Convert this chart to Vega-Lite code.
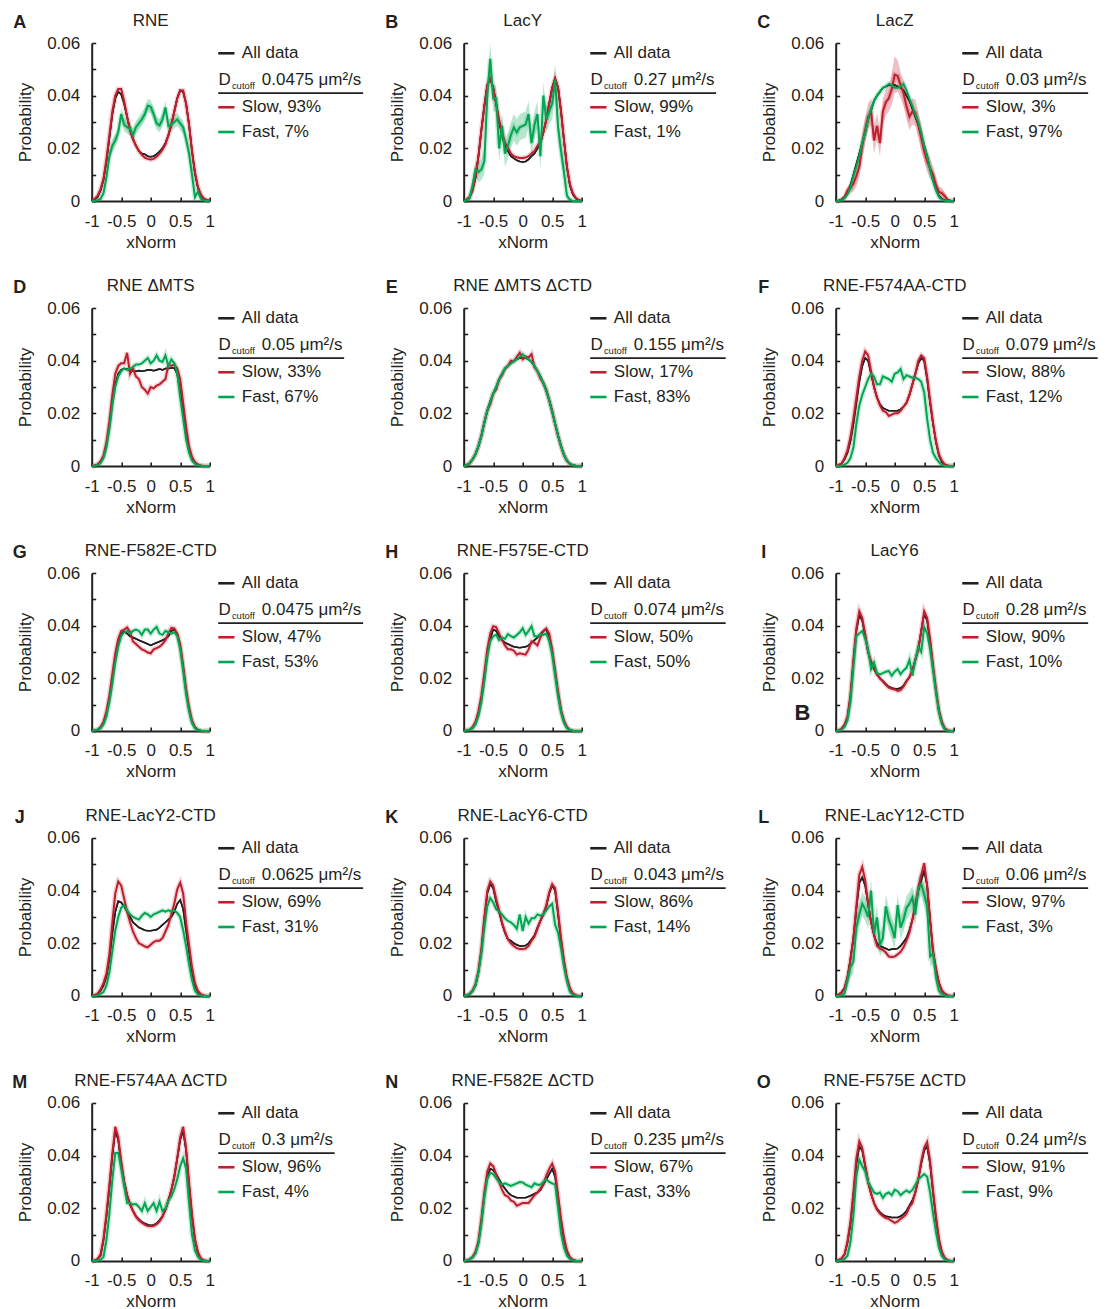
{
"$schema":"https://vega.github.io/schema/vega-lite/v6.json",
"padding":{"left":11.7,"top":11,"right":5,"bottom":5},
"data":{"values":[
{"p":"A","title":"RNE","dl":"0.0475 μm²/s","slow":"Slow, 93%","fast":"Fast, 7%"},
{"p":"B","title":"LacY","dl":"0.27 μm²/s","slow":"Slow, 99%","fast":"Fast, 1%"},
{"p":"C","title":"LacZ","dl":"0.03 μm²/s","slow":"Slow, 3%","fast":"Fast, 97%"},
{"p":"D","title":"RNE ΔMTS","dl":"0.05 μm²/s","slow":"Slow, 33%","fast":"Fast, 67%"},
{"p":"E","title":"RNE ΔMTS ΔCTD","dl":"0.155 μm²/s","slow":"Slow, 17%","fast":"Fast, 83%"},
{"p":"F","title":"RNE-F574AA-CTD","dl":"0.079 μm²/s","slow":"Slow, 88%","fast":"Fast, 12%"},
{"p":"G","title":"RNE-F582E-CTD","dl":"0.0475 μm²/s","slow":"Slow, 47%","fast":"Fast, 53%"},
{"p":"H","title":"RNE-F575E-CTD","dl":"0.074 μm²/s","slow":"Slow, 50%","fast":"Fast, 50%"},
{"p":"I","title":"LacY6","dl":"0.28 μm²/s","slow":"Slow, 90%","fast":"Fast, 10%","stray":"B"},
{"p":"J","title":"RNE-LacY2-CTD","dl":"0.0625 μm²/s","slow":"Slow, 69%","fast":"Fast, 31%"},
{"p":"K","title":"RNE-LacY6-CTD","dl":"0.043 μm²/s","slow":"Slow, 86%","fast":"Fast, 14%"},
{"p":"L","title":"RNE-LacY12-CTD","dl":"0.06 μm²/s","slow":"Slow, 97%","fast":"Fast, 3%"},
{"p":"M","title":"RNE-F574AA ΔCTD","dl":"0.3 μm²/s","slow":"Slow, 96%","fast":"Fast, 4%"},
{"p":"N","title":"RNE-F582E ΔCTD","dl":"0.235 μm²/s","slow":"Slow, 67%","fast":"Fast, 33%"},
{"p":"O","title":"RNE-F575E ΔCTD","dl":"0.24 μm²/s","slow":"Slow, 91%","fast":"Fast, 9%"},

{"p":"A","x":-1,"a":0.0002,"s":0.0003,"f":0,"fe":0},
{"p":"A","x":-0.95,"a":0.0006,"s":0.0008,"f":0.0001,"fe":0.0002},
{"p":"A","x":-0.9,"a":0.0015,"s":0.002,"f":0.0003,"fe":0.0003},
{"p":"A","x":-0.85,"a":0.004,"s":0.0045,"f":0.0008,"fe":0.0005},
{"p":"A","x":-0.8,"a":0.008,"s":0.0085,"f":0.003,"fe":0.001},
{"p":"A","x":-0.75,"a":0.015,"s":0.016,"f":0.009,"fe":0.0015},
{"p":"A","x":-0.7,"a":0.024,"s":0.025,"f":0.017,"fe":0.002},
{"p":"A","x":-0.65,"a":0.033,"s":0.034,"f":0.021,"fe":0.0025},
{"p":"A","x":-0.6,"a":0.039,"s":0.04,"f":0.023,"fe":0.0025},
{"p":"A","x":-0.55,"a":0.0415,"s":0.0425,"f":0.026,"fe":0.0025},
{"p":"A","x":-0.5,"a":0.0405,"s":0.0425,"f":0.033,"fe":0.0025},
{"p":"A","x":-0.45,"a":0.037,"s":0.038,"f":0.029,"fe":0.0025},
{"p":"A","x":-0.4,"a":0.032,"s":0.032,"f":0.028,"fe":0.0025},
{"p":"A","x":-0.35,"a":0.027,"s":0.027,"f":0.0275,"fe":0.0025},
{"p":"A","x":-0.3,"a":0.0235,"s":0.0235,"f":0.025,"fe":0.0025},
{"p":"A","x":-0.25,"a":0.021,"s":0.021,"f":0.028,"fe":0.0025},
{"p":"A","x":-0.2,"a":0.019,"s":0.019,"f":0.0295,"fe":0.0025},
{"p":"A","x":-0.15,"a":0.018,"s":0.0175,"f":0.031,"fe":0.0025},
{"p":"A","x":-0.1,"a":0.0178,"s":0.0165,"f":0.033,"fe":0.0025},
{"p":"A","x":-0.05,"a":0.017,"s":0.016,"f":0.0362,"fe":0.0025},
{"p":"A","x":0,"a":0.0168,"s":0.0158,"f":0.0358,"fe":0.0025},
{"p":"A","x":0.05,"a":0.017,"s":0.016,"f":0.033,"fe":0.0025},
{"p":"A","x":0.1,"a":0.0178,"s":0.0168,"f":0.0295,"fe":0.0025},
{"p":"A","x":0.15,"a":0.0188,"s":0.018,"f":0.0287,"fe":0.0025},
{"p":"A","x":0.2,"a":0.02,"s":0.0195,"f":0.031,"fe":0.0025},
{"p":"A","x":0.25,"a":0.022,"s":0.0215,"f":0.0355,"fe":0.0025},
{"p":"A","x":0.3,"a":0.025,"s":0.025,"f":0.0285,"fe":0.0025},
{"p":"A","x":0.35,"a":0.029,"s":0.029,"f":0.029,"fe":0.0025},
{"p":"A","x":0.4,"a":0.034,"s":0.034,"f":0.03,"fe":0.0025},
{"p":"A","x":0.45,"a":0.039,"s":0.039,"f":0.031,"fe":0.0025},
{"p":"A","x":0.5,"a":0.042,"s":0.042,"f":0.0295,"fe":0.0025},
{"p":"A","x":0.55,"a":0.0415,"s":0.042,"f":0.028,"fe":0.0025},
{"p":"A","x":0.6,"a":0.037,"s":0.037,"f":0.0235,"fe":0.0025},
{"p":"A","x":0.65,"a":0.029,"s":0.029,"f":0.018,"fe":0.002},
{"p":"A","x":0.7,"a":0.019,"s":0.019,"f":0.01,"fe":0.0015},
{"p":"A","x":0.75,"a":0.0105,"s":0.011,"f":0.0015,"fe":0.001},
{"p":"A","x":0.8,"a":0.005,"s":0.0055,"f":0.0035,"fe":0.0008},
{"p":"A","x":0.85,"a":0.002,"s":0.0025,"f":0.0008,"fe":0.0005},
{"p":"A","x":0.9,"a":0.0008,"s":0.001,"f":0.0002,"fe":0.0002},
{"p":"A","x":0.95,"a":0.0003,"s":0.0004,"f":0,"fe":0.0001},
{"p":"A","x":1,"a":0.0001,"s":0.0001,"f":0,"fe":0},

{"p":"B","x":-1,"a":0,"s":0,"f":0,"fe":0},
{"p":"B","x":-0.95,"a":0.0005,"s":0.0005,"f":0.0003,"fe":0.0003},
{"p":"B","x":-0.9,"a":0.0015,"s":0.0015,"f":0.001,"fe":0.0008},
{"p":"B","x":-0.85,"a":0.004,"s":0.004,"f":0.006,"fe":0.002},
{"p":"B","x":-0.8,"a":0.009,"s":0.009,"f":0.012,"fe":0.003},
{"p":"B","x":-0.75,"a":0.017,"s":0.017,"f":0.011,"fe":0.004},
{"p":"B","x":-0.7,"a":0.027,"s":0.027,"f":0.012,"fe":0.004},
{"p":"B","x":-0.65,"a":0.036,"s":0.036,"f":0.015,"fe":0.005},
{"p":"B","x":-0.6,"a":0.044,"s":0.044,"f":0.04,"fe":0.006},
{"p":"B","x":-0.55,"a":0.0465,"s":0.0465,"f":0.054,"fe":0.006},
{"p":"B","x":-0.5,"a":0.043,"s":0.043,"f":0.039,"fe":0.005},
{"p":"B","x":-0.45,"a":0.037,"s":0.037,"f":0.039,"fe":0.005},
{"p":"B","x":-0.4,"a":0.03,"s":0.031,"f":0.02,"fe":0.005},
{"p":"B","x":-0.35,"a":0.025,"s":0.026,"f":0.0285,"fe":0.005},
{"p":"B","x":-0.3,"a":0.021,"s":0.022,"f":0.018,"fe":0.005},
{"p":"B","x":-0.25,"a":0.019,"s":0.02,"f":0.021,"fe":0.005},
{"p":"B","x":-0.2,"a":0.017,"s":0.018,"f":0.025,"fe":0.005},
{"p":"B","x":-0.15,"a":0.0162,"s":0.017,"f":0.028,"fe":0.005},
{"p":"B","x":-0.1,"a":0.0155,"s":0.0166,"f":0.026,"fe":0.005},
{"p":"B","x":-0.05,"a":0.015,"s":0.0163,"f":0.028,"fe":0.005},
{"p":"B","x":0,"a":0.0148,"s":0.0163,"f":0.0285,"fe":0.005},
{"p":"B","x":0.05,"a":0.015,"s":0.0165,"f":0.029,"fe":0.005},
{"p":"B","x":0.1,"a":0.0158,"s":0.017,"f":0.033,"fe":0.005},
{"p":"B","x":0.15,"a":0.017,"s":0.018,"f":0.022,"fe":0.005},
{"p":"B","x":0.2,"a":0.018,"s":0.019,"f":0.029,"fe":0.005},
{"p":"B","x":0.25,"a":0.02,"s":0.021,"f":0.033,"fe":0.005},
{"p":"B","x":0.3,"a":0.022,"s":0.0225,"f":0.017,"fe":0.005},
{"p":"B","x":0.35,"a":0.026,"s":0.026,"f":0.04,"fe":0.005},
{"p":"B","x":0.4,"a":0.031,"s":0.031,"f":0.031,"fe":0.005},
{"p":"B","x":0.45,"a":0.037,"s":0.037,"f":0.034,"fe":0.005},
{"p":"B","x":0.5,"a":0.043,"s":0.043,"f":0.037,"fe":0.006},
{"p":"B","x":0.55,"a":0.0465,"s":0.0465,"f":0.046,"fe":0.006},
{"p":"B","x":0.6,"a":0.043,"s":0.043,"f":0.028,"fe":0.005},
{"p":"B","x":0.65,"a":0.034,"s":0.034,"f":0.019,"fe":0.004},
{"p":"B","x":0.7,"a":0.023,"s":0.023,"f":0.011,"fe":0.003},
{"p":"B","x":0.75,"a":0.013,"s":0.013,"f":0.002,"fe":0.0015},
{"p":"B","x":0.8,"a":0.006,"s":0.0065,"f":0.0005,"fe":0.0005},
{"p":"B","x":0.85,"a":0.0025,"s":0.003,"f":0,"fe":0.0002},
{"p":"B","x":0.9,"a":0.001,"s":0.0012,"f":0,"fe":0},
{"p":"B","x":0.95,"a":0.0003,"s":0.0004,"f":0,"fe":0},
{"p":"B","x":1,"a":0,"s":0,"f":0,"fe":0},

{"p":"C","x":-1,"a":0,"s":0,"f":0,"se":0},
{"p":"C","x":-0.95,"a":0.0002,"s":0,"f":0.0001,"se":0.0002},
{"p":"C","x":-0.9,"a":0.0006,"s":0.0005,"f":0.0003,"se":0.0005},
{"p":"C","x":-0.85,"a":0.0015,"s":0.0015,"f":0.001,"se":0.001},
{"p":"C","x":-0.8,"a":0.003,"s":0.004,"f":0.0025,"se":0.0015},
{"p":"C","x":-0.75,"a":0.006,"s":0.005,"f":0.005,"se":0.002},
{"p":"C","x":-0.7,"a":0.01,"s":0.0065,"f":0.0095,"se":0.003},
{"p":"C","x":-0.65,"a":0.014,"s":0.0095,"f":0.013,"se":0.004},
{"p":"C","x":-0.6,"a":0.018,"s":0.013,"f":0.017,"se":0.004},
{"p":"C","x":-0.55,"a":0.022,"s":0.021,"f":0.022,"se":0.005},
{"p":"C","x":-0.5,"a":0.026,"s":0.027,"f":0.026,"se":0.005},
{"p":"C","x":-0.45,"a":0.031,"s":0.032,"f":0.031,"se":0.005},
{"p":"C","x":-0.4,"a":0.0345,"s":0.034,"f":0.035,"se":0.005},
{"p":"C","x":-0.35,"a":0.038,"s":0.023,"f":0.038,"se":0.005},
{"p":"C","x":-0.3,"a":0.04,"s":0.0285,"f":0.04,"se":0.005},
{"p":"C","x":-0.25,"a":0.0415,"s":0.022,"f":0.0415,"se":0.005},
{"p":"C","x":-0.2,"a":0.043,"s":0.034,"f":0.043,"se":0.005},
{"p":"C","x":-0.15,"a":0.0435,"s":0.0375,"f":0.0435,"se":0.005},
{"p":"C","x":-0.1,"a":0.044,"s":0.039,"f":0.0445,"se":0.005},
{"p":"C","x":-0.05,"a":0.044,"s":0.0425,"f":0.044,"se":0.006},
{"p":"C","x":0,"a":0.044,"s":0.048,"f":0.043,"se":0.007},
{"p":"C","x":0.05,"a":0.0435,"s":0.0475,"f":0.043,"se":0.006},
{"p":"C","x":0.1,"a":0.043,"s":0.044,"f":0.0435,"se":0.005},
{"p":"C","x":0.15,"a":0.042,"s":0.041,"f":0.0445,"se":0.005},
{"p":"C","x":0.2,"a":0.04,"s":0.036,"f":0.042,"se":0.005},
{"p":"C","x":0.25,"a":0.038,"s":0.032,"f":0.039,"se":0.005},
{"p":"C","x":0.3,"a":0.035,"s":0.034,"f":0.036,"se":0.005},
{"p":"C","x":0.35,"a":0.032,"s":0.0335,"f":0.033,"se":0.005},
{"p":"C","x":0.4,"a":0.029,"s":0.029,"f":0.03,"se":0.005},
{"p":"C","x":0.45,"a":0.025,"s":0.024,"f":0.026,"se":0.005},
{"p":"C","x":0.5,"a":0.021,"s":0.019,"f":0.021,"se":0.004},
{"p":"C","x":0.55,"a":0.017,"s":0.015,"f":0.017,"se":0.004},
{"p":"C","x":0.6,"a":0.012,"s":0.0125,"f":0.012,"se":0.004},
{"p":"C","x":0.65,"a":0.008,"s":0.01,"f":0.0075,"se":0.003},
{"p":"C","x":0.7,"a":0.0045,"s":0.006,"f":0.004,"se":0.003},
{"p":"C","x":0.75,"a":0.002,"s":0.0035,"f":0.0015,"se":0.002},
{"p":"C","x":0.8,"a":0.0008,"s":0.003,"f":0.0005,"se":0.002},
{"p":"C","x":0.85,"a":0.0003,"s":0.0018,"f":0.0001,"se":0.0015},
{"p":"C","x":0.9,"a":0.0001,"s":0.0005,"f":0,"se":0.0005},
{"p":"C","x":0.95,"a":0,"s":0.0001,"f":0,"se":0},
{"p":"C","x":1,"a":0,"s":0,"f":0,"se":0},

{"p":"D","x":-1,"a":0,"s":0,"f":0},
{"p":"D","x":-0.95,"a":0.0002,"s":0.0002,"f":0.0001},
{"p":"D","x":-0.9,"a":0.0006,"s":0.0006,"f":0.0004},
{"p":"D","x":-0.85,"a":0.0015,"s":0.0018,"f":0.001},
{"p":"D","x":-0.8,"a":0.0035,"s":0.004,"f":0.003},
{"p":"D","x":-0.75,"a":0.008,"s":0.009,"f":0.007},
{"p":"D","x":-0.7,"a":0.015,"s":0.017,"f":0.014},
{"p":"D","x":-0.65,"a":0.024,"s":0.027,"f":0.023},
{"p":"D","x":-0.6,"a":0.031,"s":0.035,"f":0.03},
{"p":"D","x":-0.55,"a":0.035,"s":0.038,"f":0.034},
{"p":"D","x":-0.5,"a":0.0365,"s":0.039,"f":0.036},
{"p":"D","x":-0.45,"a":0.037,"s":0.039,"f":0.037},
{"p":"D","x":-0.4,"a":0.0368,"s":0.043,"f":0.0365},
{"p":"D","x":-0.35,"a":0.0365,"s":0.035,"f":0.037},
{"p":"D","x":-0.3,"a":0.036,"s":0.037,"f":0.0375},
{"p":"D","x":-0.25,"a":0.036,"s":0.034,"f":0.0385},
{"p":"D","x":-0.2,"a":0.0362,"s":0.033,"f":0.0385},
{"p":"D","x":-0.15,"a":0.036,"s":0.03,"f":0.039},
{"p":"D","x":-0.1,"a":0.0362,"s":0.029,"f":0.04},
{"p":"D","x":-0.05,"a":0.0365,"s":0.0275,"f":0.041},
{"p":"D","x":0,"a":0.0365,"s":0.03,"f":0.039},
{"p":"D","x":0.05,"a":0.0362,"s":0.0295,"f":0.04},
{"p":"D","x":0.1,"a":0.0365,"s":0.0305,"f":0.042},
{"p":"D","x":0.15,"a":0.0368,"s":0.031,"f":0.04},
{"p":"D","x":0.2,"a":0.0365,"s":0.032,"f":0.0395},
{"p":"D","x":0.25,"a":0.037,"s":0.033,"f":0.042},
{"p":"D","x":0.3,"a":0.037,"s":0.0385,"f":0.038},
{"p":"D","x":0.35,"a":0.0372,"s":0.038,"f":0.0405},
{"p":"D","x":0.4,"a":0.0372,"s":0.0385,"f":0.039},
{"p":"D","x":0.45,"a":0.035,"s":0.037,"f":0.035},
{"p":"D","x":0.5,"a":0.028,"s":0.033,"f":0.026},
{"p":"D","x":0.55,"a":0.021,"s":0.024,"f":0.018},
{"p":"D","x":0.6,"a":0.013,"s":0.015,"f":0.01},
{"p":"D","x":0.65,"a":0.0065,"s":0.0075,"f":0.005},
{"p":"D","x":0.7,"a":0.003,"s":0.0035,"f":0.002},
{"p":"D","x":0.75,"a":0.0012,"s":0.0015,"f":0.0008},
{"p":"D","x":0.8,"a":0.0005,"s":0.0006,"f":0.0003},
{"p":"D","x":0.85,"a":0.0002,"s":0.0002,"f":0.0001},
{"p":"D","x":0.9,"a":0,"s":0,"f":0},
{"p":"D","x":0.95,"a":0,"s":0,"f":0},
{"p":"D","x":1,"a":0,"s":0,"f":0},

{"p":"E","x":-1,"a":0,"s":0,"f":0},
{"p":"E","x":-0.95,"a":0.0003,"s":0.0003,"f":0.0003},
{"p":"E","x":-0.9,"a":0.001,"s":0.001,"f":0.001},
{"p":"E","x":-0.85,"a":0.0025,"s":0.0025,"f":0.0025},
{"p":"E","x":-0.8,"a":0.0045,"s":0.0045,"f":0.0045},
{"p":"E","x":-0.75,"a":0.0075,"s":0.0075,"f":0.0075},
{"p":"E","x":-0.7,"a":0.0115,"s":0.0115,"f":0.0115},
{"p":"E","x":-0.65,"a":0.0165,"s":0.0165,"f":0.0165},
{"p":"E","x":-0.6,"a":0.021,"s":0.021,"f":0.021},
{"p":"E","x":-0.55,"a":0.0245,"s":0.0235,"f":0.0245},
{"p":"E","x":-0.5,"a":0.0275,"s":0.0275,"f":0.0275},
{"p":"E","x":-0.45,"a":0.03,"s":0.029,"f":0.03},
{"p":"E","x":-0.4,"a":0.0328,"s":0.0328,"f":0.0328},
{"p":"E","x":-0.35,"a":0.035,"s":0.0345,"f":0.035},
{"p":"E","x":-0.3,"a":0.037,"s":0.037,"f":0.037},
{"p":"E","x":-0.25,"a":0.038,"s":0.038,"f":0.038},
{"p":"E","x":-0.2,"a":0.039,"s":0.04,"f":0.039},
{"p":"E","x":-0.15,"a":0.0398,"s":0.0398,"f":0.0398},
{"p":"E","x":-0.1,"a":0.0405,"s":0.0415,"f":0.0405},
{"p":"E","x":-0.05,"a":0.041,"s":0.043,"f":0.0415},
{"p":"E","x":0,"a":0.041,"s":0.0405,"f":0.0425},
{"p":"E","x":0.05,"a":0.041,"s":0.0415,"f":0.0412},
{"p":"E","x":0.1,"a":0.0405,"s":0.0412,"f":0.0405},
{"p":"E","x":0.15,"a":0.0395,"s":0.0425,"f":0.0395},
{"p":"E","x":0.2,"a":0.038,"s":0.0375,"f":0.038},
{"p":"E","x":0.25,"a":0.036,"s":0.036,"f":0.036},
{"p":"E","x":0.3,"a":0.034,"s":0.0332,"f":0.034},
{"p":"E","x":0.35,"a":0.0315,"s":0.0315,"f":0.0315},
{"p":"E","x":0.4,"a":0.0285,"s":0.029,"f":0.0285},
{"p":"E","x":0.45,"a":0.025,"s":0.025,"f":0.025},
{"p":"E","x":0.5,"a":0.0205,"s":0.021,"f":0.0205},
{"p":"E","x":0.55,"a":0.016,"s":0.016,"f":0.016},
{"p":"E","x":0.6,"a":0.0115,"s":0.0115,"f":0.0115},
{"p":"E","x":0.65,"a":0.0075,"s":0.0075,"f":0.0075},
{"p":"E","x":0.7,"a":0.0042,"s":0.0042,"f":0.0042},
{"p":"E","x":0.75,"a":0.002,"s":0.002,"f":0.002},
{"p":"E","x":0.8,"a":0.0008,"s":0.0008,"f":0.0008},
{"p":"E","x":0.85,"a":0.0003,"s":0.0003,"f":0.0003},
{"p":"E","x":0.9,"a":0.0001,"s":0.0001,"f":0.0001},
{"p":"E","x":0.95,"a":0,"s":0,"f":0},
{"p":"E","x":1,"a":0,"s":0,"f":0},

{"p":"F","x":-1,"a":0,"s":0,"f":0},
{"p":"F","x":-0.95,"a":0.0003,"s":0.0003,"f":0},
{"p":"F","x":-0.9,"a":0.001,"s":0.001,"f":0.0002},
{"p":"F","x":-0.85,"a":0.0025,"s":0.003,"f":0.0005},
{"p":"F","x":-0.8,"a":0.005,"s":0.006,"f":0.0012},
{"p":"F","x":-0.75,"a":0.0095,"s":0.011,"f":0.003},
{"p":"F","x":-0.7,"a":0.016,"s":0.018,"f":0.007},
{"p":"F","x":-0.65,"a":0.024,"s":0.026,"f":0.016},
{"p":"F","x":-0.6,"a":0.032,"s":0.034,"f":0.023},
{"p":"F","x":-0.55,"a":0.038,"s":0.04,"f":0.027},
{"p":"F","x":-0.5,"a":0.041,"s":0.0435,"f":0.03},
{"p":"F","x":-0.45,"a":0.04,"s":0.042,"f":0.033},
{"p":"F","x":-0.4,"a":0.035,"s":0.036,"f":0.035},
{"p":"F","x":-0.35,"a":0.03,"s":0.03,"f":0.034},
{"p":"F","x":-0.3,"a":0.026,"s":0.026,"f":0.031},
{"p":"F","x":-0.25,"a":0.0235,"s":0.023,"f":0.031},
{"p":"F","x":-0.2,"a":0.022,"s":0.021,"f":0.034},
{"p":"F","x":-0.15,"a":0.0215,"s":0.0205,"f":0.0335},
{"p":"F","x":-0.1,"a":0.021,"s":0.019,"f":0.033},
{"p":"F","x":-0.05,"a":0.021,"s":0.0195,"f":0.032},
{"p":"F","x":0,"a":0.021,"s":0.02,"f":0.035},
{"p":"F","x":0.05,"a":0.021,"s":0.02,"f":0.0355},
{"p":"F","x":0.1,"a":0.0215,"s":0.021,"f":0.0368},
{"p":"F","x":0.15,"a":0.0225,"s":0.0225,"f":0.033},
{"p":"F","x":0.2,"a":0.024,"s":0.024,"f":0.0345},
{"p":"F","x":0.25,"a":0.027,"s":0.027,"f":0.034},
{"p":"F","x":0.3,"a":0.031,"s":0.031,"f":0.0335},
{"p":"F","x":0.35,"a":0.035,"s":0.035,"f":0.0335},
{"p":"F","x":0.4,"a":0.039,"s":0.04,"f":0.033},
{"p":"F","x":0.45,"a":0.041,"s":0.042,"f":0.032},
{"p":"F","x":0.5,"a":0.04,"s":0.041,"f":0.028},
{"p":"F","x":0.55,"a":0.033,"s":0.034,"f":0.018},
{"p":"F","x":0.6,"a":0.024,"s":0.025,"f":0.01},
{"p":"F","x":0.65,"a":0.016,"s":0.0165,"f":0.005},
{"p":"F","x":0.7,"a":0.009,"s":0.0095,"f":0.003},
{"p":"F","x":0.75,"a":0.004,"s":0.0045,"f":0.0015},
{"p":"F","x":0.8,"a":0.0015,"s":0.002,"f":0.0003},
{"p":"F","x":0.85,"a":0.0005,"s":0.0006,"f":0},
{"p":"F","x":0.9,"a":0.0002,"s":0.0002,"f":0},
{"p":"F","x":0.95,"a":0,"s":0,"f":0},
{"p":"F","x":1,"a":0,"s":0,"f":0},

{"p":"G","x":-1,"a":0,"s":0,"f":0},
{"p":"G","x":-0.95,"a":0.0002,"s":0.0002,"f":0.0002},
{"p":"G","x":-0.9,"a":0.0005,"s":0.0005,"f":0.0005},
{"p":"G","x":-0.85,"a":0.0012,"s":0.0015,"f":0.001},
{"p":"G","x":-0.8,"a":0.003,"s":0.0035,"f":0.0025},
{"p":"G","x":-0.75,"a":0.0065,"s":0.0075,"f":0.0055},
{"p":"G","x":-0.7,"a":0.012,"s":0.0135,"f":0.011},
{"p":"G","x":-0.65,"a":0.02,"s":0.0215,"f":0.018},
{"p":"G","x":-0.6,"a":0.028,"s":0.0295,"f":0.026},
{"p":"G","x":-0.55,"a":0.034,"s":0.035,"f":0.032},
{"p":"G","x":-0.5,"a":0.037,"s":0.038,"f":0.036},
{"p":"G","x":-0.45,"a":0.0378,"s":0.0385,"f":0.0375},
{"p":"G","x":-0.4,"a":0.037,"s":0.0393,"f":0.038},
{"p":"G","x":-0.35,"a":0.036,"s":0.0375,"f":0.037},
{"p":"G","x":-0.3,"a":0.0355,"s":0.034,"f":0.038},
{"p":"G","x":-0.25,"a":0.035,"s":0.033,"f":0.0385},
{"p":"G","x":-0.2,"a":0.0345,"s":0.032,"f":0.038},
{"p":"G","x":-0.15,"a":0.034,"s":0.031,"f":0.0365},
{"p":"G","x":-0.1,"a":0.0335,"s":0.0305,"f":0.0385},
{"p":"G","x":-0.05,"a":0.033,"s":0.0298,"f":0.0385},
{"p":"G","x":0,"a":0.0325,"s":0.0295,"f":0.037},
{"p":"G","x":0.05,"a":0.033,"s":0.031,"f":0.0385},
{"p":"G","x":0.1,"a":0.0335,"s":0.0315,"f":0.0395},
{"p":"G","x":0.15,"a":0.034,"s":0.032,"f":0.037},
{"p":"G","x":0.2,"a":0.0345,"s":0.033,"f":0.0365},
{"p":"G","x":0.25,"a":0.035,"s":0.0345,"f":0.038},
{"p":"G","x":0.3,"a":0.036,"s":0.037,"f":0.0375},
{"p":"G","x":0.35,"a":0.038,"s":0.0392,"f":0.037},
{"p":"G","x":0.4,"a":0.0385,"s":0.039,"f":0.0375},
{"p":"G","x":0.45,"a":0.037,"s":0.037,"f":0.036},
{"p":"G","x":0.5,"a":0.032,"s":0.033,"f":0.031},
{"p":"G","x":0.55,"a":0.024,"s":0.025,"f":0.023},
{"p":"G","x":0.6,"a":0.015,"s":0.016,"f":0.014},
{"p":"G","x":0.65,"a":0.008,"s":0.009,"f":0.0075},
{"p":"G","x":0.7,"a":0.0035,"s":0.004,"f":0.003},
{"p":"G","x":0.75,"a":0.0012,"s":0.0015,"f":0.001},
{"p":"G","x":0.8,"a":0.0004,"s":0.0005,"f":0.0003},
{"p":"G","x":0.85,"a":0.0001,"s":0.0001,"f":0.0001},
{"p":"G","x":0.9,"a":0,"s":0,"f":0},
{"p":"G","x":0.95,"a":0,"s":0,"f":0},
{"p":"G","x":1,"a":0,"s":0,"f":0},

{"p":"H","x":-1,"a":0,"s":0,"f":0},
{"p":"H","x":-0.95,"a":0.0002,"s":0.0002,"f":0.0002},
{"p":"H","x":-0.9,"a":0.0005,"s":0.0005,"f":0.0005},
{"p":"H","x":-0.85,"a":0.0012,"s":0.0015,"f":0.001},
{"p":"H","x":-0.8,"a":0.003,"s":0.0035,"f":0.0025},
{"p":"H","x":-0.75,"a":0.0065,"s":0.0075,"f":0.0055},
{"p":"H","x":-0.7,"a":0.012,"s":0.0135,"f":0.011},
{"p":"H","x":-0.65,"a":0.02,"s":0.022,"f":0.019},
{"p":"H","x":-0.6,"a":0.029,"s":0.031,"f":0.028},
{"p":"H","x":-0.55,"a":0.035,"s":0.037,"f":0.034},
{"p":"H","x":-0.5,"a":0.0385,"s":0.0398,"f":0.036},
{"p":"H","x":-0.45,"a":0.038,"s":0.0395,"f":0.0365},
{"p":"H","x":-0.4,"a":0.036,"s":0.037,"f":0.0345},
{"p":"H","x":-0.35,"a":0.0345,"s":0.0345,"f":0.0355},
{"p":"H","x":-0.3,"a":0.0335,"s":0.0325,"f":0.035},
{"p":"H","x":-0.25,"a":0.033,"s":0.031,"f":0.0368},
{"p":"H","x":-0.2,"a":0.0325,"s":0.031,"f":0.036},
{"p":"H","x":-0.15,"a":0.032,"s":0.0305,"f":0.0355},
{"p":"H","x":-0.1,"a":0.0318,"s":0.029,"f":0.0365},
{"p":"H","x":-0.05,"a":0.0316,"s":0.0295,"f":0.0375},
{"p":"H","x":0,"a":0.0318,"s":0.0292,"f":0.039},
{"p":"H","x":0.05,"a":0.032,"s":0.029,"f":0.0365},
{"p":"H","x":0.1,"a":0.0325,"s":0.031,"f":0.038},
{"p":"H","x":0.15,"a":0.0335,"s":0.034,"f":0.0398},
{"p":"H","x":0.2,"a":0.0345,"s":0.0335,"f":0.036},
{"p":"H","x":0.25,"a":0.0355,"s":0.0325,"f":0.036},
{"p":"H","x":0.3,"a":0.0368,"s":0.0355,"f":0.0368},
{"p":"H","x":0.35,"a":0.038,"s":0.038,"f":0.0365},
{"p":"H","x":0.4,"a":0.0385,"s":0.039,"f":0.037},
{"p":"H","x":0.45,"a":0.036,"s":0.037,"f":0.034},
{"p":"H","x":0.5,"a":0.03,"s":0.031,"f":0.029},
{"p":"H","x":0.55,"a":0.022,"s":0.023,"f":0.021},
{"p":"H","x":0.6,"a":0.014,"s":0.015,"f":0.013},
{"p":"H","x":0.65,"a":0.0075,"s":0.008,"f":0.007},
{"p":"H","x":0.7,"a":0.0035,"s":0.004,"f":0.003},
{"p":"H","x":0.75,"a":0.0012,"s":0.0015,"f":0.001},
{"p":"H","x":0.8,"a":0.0004,"s":0.0004,"f":0.0004},
{"p":"H","x":0.85,"a":0.0001,"s":0.0001,"f":0.0001},
{"p":"H","x":0.9,"a":0,"s":0,"f":0},
{"p":"H","x":0.95,"a":0,"s":0,"f":0},
{"p":"H","x":1,"a":0,"s":0,"f":0},

{"p":"I","x":-1,"a":0,"s":0,"f":0},
{"p":"I","x":-0.95,"a":0.0002,"s":0.0002,"f":0.0001},
{"p":"I","x":-0.9,"a":0.0008,"s":0.0009,"f":0.0005},
{"p":"I","x":-0.85,"a":0.002,"s":0.0025,"f":0.0015},
{"p":"I","x":-0.8,"a":0.005,"s":0.0055,"f":0.004},
{"p":"I","x":-0.75,"a":0.013,"s":0.0135,"f":0.011},
{"p":"I","x":-0.7,"a":0.026,"s":0.027,"f":0.024},
{"p":"I","x":-0.65,"a":0.038,"s":0.039,"f":0.036},
{"p":"I","x":-0.6,"a":0.044,"s":0.0455,"f":0.037},
{"p":"I","x":-0.55,"a":0.042,"s":0.043,"f":0.038},
{"p":"I","x":-0.5,"a":0.036,"s":0.037,"f":0.035},
{"p":"I","x":-0.45,"a":0.03,"s":0.03,"f":0.031},
{"p":"I","x":-0.4,"a":0.026,"s":0.0265,"f":0.0235},
{"p":"I","x":-0.35,"a":0.0235,"s":0.024,"f":0.026},
{"p":"I","x":-0.3,"a":0.0215,"s":0.0215,"f":0.022},
{"p":"I","x":-0.25,"a":0.02,"s":0.02,"f":0.0215},
{"p":"I","x":-0.2,"a":0.019,"s":0.0188,"f":0.022},
{"p":"I","x":-0.15,"a":0.0178,"s":0.0175,"f":0.0225},
{"p":"I","x":-0.1,"a":0.0168,"s":0.0165,"f":0.0228},
{"p":"I","x":-0.05,"a":0.0163,"s":0.016,"f":0.021},
{"p":"I","x":0,"a":0.016,"s":0.0158,"f":0.0225},
{"p":"I","x":0.05,"a":0.016,"s":0.0152,"f":0.0235},
{"p":"I","x":0.1,"a":0.0163,"s":0.0155,"f":0.0216},
{"p":"I","x":0.15,"a":0.0172,"s":0.0168,"f":0.023},
{"p":"I","x":0.2,"a":0.019,"s":0.0188,"f":0.024},
{"p":"I","x":0.25,"a":0.0205,"s":0.0205,"f":0.027},
{"p":"I","x":0.3,"a":0.023,"s":0.023,"f":0.021},
{"p":"I","x":0.35,"a":0.027,"s":0.027,"f":0.027},
{"p":"I","x":0.4,"a":0.031,"s":0.031,"f":0.032},
{"p":"I","x":0.45,"a":0.038,"s":0.038,"f":0.03},
{"p":"I","x":0.5,"a":0.0445,"s":0.0455,"f":0.0395},
{"p":"I","x":0.55,"a":0.042,"s":0.043,"f":0.037},
{"p":"I","x":0.6,"a":0.034,"s":0.035,"f":0.031},
{"p":"I","x":0.65,"a":0.024,"s":0.025,"f":0.023},
{"p":"I","x":0.7,"a":0.015,"s":0.016,"f":0.0146},
{"p":"I","x":0.75,"a":0.0075,"s":0.008,"f":0.007},
{"p":"I","x":0.8,"a":0.003,"s":0.0035,"f":0.0025},
{"p":"I","x":0.85,"a":0.0008,"s":0.001,"f":0.0005},
{"p":"I","x":0.9,"a":0.0002,"s":0.0003,"f":0.0001},
{"p":"I","x":0.95,"a":0,"s":0,"f":0},
{"p":"I","x":1,"a":0,"s":0,"f":0},

{"p":"J","x":-1,"a":0,"s":0,"f":0},
{"p":"J","x":-0.95,"a":0.0003,"s":0.0003,"f":0.0001},
{"p":"J","x":-0.9,"a":0.0008,"s":0.0009,"f":0.0003},
{"p":"J","x":-0.85,"a":0.002,"s":0.0025,"f":0.0008},
{"p":"J","x":-0.8,"a":0.004,"s":0.005,"f":0.0015},
{"p":"J","x":-0.75,"a":0.0075,"s":0.0085,"f":0.004},
{"p":"J","x":-0.7,"a":0.014,"s":0.016,"f":0.009},
{"p":"J","x":-0.65,"a":0.024,"s":0.028,"f":0.017},
{"p":"J","x":-0.6,"a":0.032,"s":0.039,"f":0.025},
{"p":"J","x":-0.55,"a":0.036,"s":0.0435,"f":0.03},
{"p":"J","x":-0.5,"a":0.0355,"s":0.042,"f":0.0335},
{"p":"J","x":-0.45,"a":0.034,"s":0.037,"f":0.0345},
{"p":"J","x":-0.4,"a":0.032,"s":0.032,"f":0.0325},
{"p":"J","x":-0.35,"a":0.03,"s":0.028,"f":0.031},
{"p":"J","x":-0.3,"a":0.028,"s":0.0245,"f":0.03},
{"p":"J","x":-0.25,"a":0.027,"s":0.022,"f":0.0295},
{"p":"J","x":-0.2,"a":0.026,"s":0.02,"f":0.029},
{"p":"J","x":-0.15,"a":0.0255,"s":0.0195,"f":0.0305},
{"p":"J","x":-0.1,"a":0.025,"s":0.0188,"f":0.0315},
{"p":"J","x":-0.05,"a":0.0248,"s":0.0185,"f":0.031},
{"p":"J","x":0,"a":0.0248,"s":0.0195,"f":0.03},
{"p":"J","x":0.05,"a":0.025,"s":0.0205,"f":0.031},
{"p":"J","x":0.1,"a":0.0252,"s":0.021,"f":0.0315},
{"p":"J","x":0.15,"a":0.026,"s":0.021,"f":0.032},
{"p":"J","x":0.2,"a":0.027,"s":0.022,"f":0.0325},
{"p":"J","x":0.25,"a":0.028,"s":0.0245,"f":0.032},
{"p":"J","x":0.3,"a":0.029,"s":0.027,"f":0.0325},
{"p":"J","x":0.35,"a":0.03,"s":0.031,"f":0.032},
{"p":"J","x":0.4,"a":0.032,"s":0.035,"f":0.0325},
{"p":"J","x":0.45,"a":0.035,"s":0.0405,"f":0.0315},
{"p":"J","x":0.5,"a":0.0365,"s":0.043,"f":0.03},
{"p":"J","x":0.55,"a":0.033,"s":0.039,"f":0.025},
{"p":"J","x":0.6,"a":0.025,"s":0.028,"f":0.019},
{"p":"J","x":0.65,"a":0.017,"s":0.0195,"f":0.012},
{"p":"J","x":0.7,"a":0.009,"s":0.011,"f":0.006},
{"p":"J","x":0.75,"a":0.004,"s":0.005,"f":0.002},
{"p":"J","x":0.8,"a":0.0015,"s":0.002,"f":0.0006},
{"p":"J","x":0.85,"a":0.0005,"s":0.0007,"f":0.0002},
{"p":"J","x":0.9,"a":0.0002,"s":0.0002,"f":0},
{"p":"J","x":0.95,"a":0,"s":0,"f":0},
{"p":"J","x":1,"a":0,"s":0,"f":0},

{"p":"K","x":-1,"a":0,"s":0,"f":0},
{"p":"K","x":-0.95,"a":0.0002,"s":0.0002,"f":0.0002},
{"p":"K","x":-0.9,"a":0.0007,"s":0.0008,"f":0.0007},
{"p":"K","x":-0.85,"a":0.002,"s":0.002,"f":0.0018},
{"p":"K","x":-0.8,"a":0.004,"s":0.0045,"f":0.004},
{"p":"K","x":-0.75,"a":0.009,"s":0.0095,"f":0.009},
{"p":"K","x":-0.7,"a":0.017,"s":0.018,"f":0.016},
{"p":"K","x":-0.65,"a":0.029,"s":0.03,"f":0.026},
{"p":"K","x":-0.6,"a":0.039,"s":0.04,"f":0.034},
{"p":"K","x":-0.55,"a":0.0425,"s":0.0435,"f":0.0372},
{"p":"K","x":-0.5,"a":0.041,"s":0.042,"f":0.0355},
{"p":"K","x":-0.45,"a":0.036,"s":0.037,"f":0.033},
{"p":"K","x":-0.4,"a":0.032,"s":0.0325,"f":0.032},
{"p":"K","x":-0.35,"a":0.0275,"s":0.028,"f":0.031},
{"p":"K","x":-0.3,"a":0.024,"s":0.0245,"f":0.0295},
{"p":"K","x":-0.25,"a":0.0215,"s":0.0215,"f":0.0285},
{"p":"K","x":-0.2,"a":0.021,"s":0.02,"f":0.028},
{"p":"K","x":-0.15,"a":0.02,"s":0.019,"f":0.027},
{"p":"K","x":-0.1,"a":0.0195,"s":0.0182,"f":0.0255},
{"p":"K","x":-0.05,"a":0.019,"s":0.0178,"f":0.031},
{"p":"K","x":0,"a":0.019,"s":0.0178,"f":0.0247},
{"p":"K","x":0.05,"a":0.0192,"s":0.018,"f":0.03},
{"p":"K","x":0.1,"a":0.02,"s":0.019,"f":0.0275},
{"p":"K","x":0.15,"a":0.0215,"s":0.021,"f":0.0295},
{"p":"K","x":0.2,"a":0.023,"s":0.0225,"f":0.0295},
{"p":"K","x":0.25,"a":0.026,"s":0.0255,"f":0.031},
{"p":"K","x":0.3,"a":0.0285,"s":0.0285,"f":0.0305},
{"p":"K","x":0.35,"a":0.031,"s":0.031,"f":0.031},
{"p":"K","x":0.4,"a":0.034,"s":0.0345,"f":0.0325},
{"p":"K","x":0.45,"a":0.039,"s":0.0395,"f":0.034},
{"p":"K","x":0.5,"a":0.042,"s":0.0425,"f":0.035},
{"p":"K","x":0.55,"a":0.04,"s":0.041,"f":0.027},
{"p":"K","x":0.6,"a":0.031,"s":0.032,"f":0.024},
{"p":"K","x":0.65,"a":0.021,"s":0.022,"f":0.018},
{"p":"K","x":0.7,"a":0.013,"s":0.0135,"f":0.011},
{"p":"K","x":0.75,"a":0.0065,"s":0.007,"f":0.0055},
{"p":"K","x":0.8,"a":0.0025,"s":0.003,"f":0.0015},
{"p":"K","x":0.85,"a":0.0008,"s":0.001,"f":0.0004},
{"p":"K","x":0.9,"a":0.0002,"s":0.0003,"f":0.0001},
{"p":"K","x":0.95,"a":0,"s":0,"f":0},
{"p":"K","x":1,"a":0,"s":0,"f":0},

{"p":"L","x":-1,"a":0,"s":0,"f":0,"fe":0},
{"p":"L","x":-0.95,"a":0.0005,"s":0.0004,"f":0,"fe":0.0003},
{"p":"L","x":-0.9,"a":0.0015,"s":0.0013,"f":0.0003,"fe":0.0008},
{"p":"L","x":-0.85,"a":0.003,"s":0.003,"f":0.001,"fe":0.0015},
{"p":"L","x":-0.8,"a":0.007,"s":0.007,"f":0.006,"fe":0.003},
{"p":"L","x":-0.75,"a":0.014,"s":0.014,"f":0.011,"fe":0.004},
{"p":"L","x":-0.7,"a":0.022,"s":0.022,"f":0.013,"fe":0.0045},
{"p":"L","x":-0.65,"a":0.033,"s":0.034,"f":0.026,"fe":0.0045},
{"p":"L","x":-0.6,"a":0.043,"s":0.046,"f":0.031,"fe":0.0045},
{"p":"L","x":-0.55,"a":0.045,"s":0.049,"f":0.035,"fe":0.0045},
{"p":"L","x":-0.5,"a":0.042,"s":0.044,"f":0.033,"fe":0.0045},
{"p":"L","x":-0.45,"a":0.035,"s":0.035,"f":0.03,"fe":0.0045},
{"p":"L","x":-0.4,"a":0.028,"s":0.028,"f":0.04,"fe":0.0045},
{"p":"L","x":-0.35,"a":0.023,"s":0.0235,"f":0.0235,"fe":0.0045},
{"p":"L","x":-0.3,"a":0.02,"s":0.019,"f":0.0298,"fe":0.0045},
{"p":"L","x":-0.25,"a":0.019,"s":0.018,"f":0.0195,"fe":0.0045},
{"p":"L","x":-0.2,"a":0.0185,"s":0.0175,"f":0.022,"fe":0.0045},
{"p":"L","x":-0.15,"a":0.018,"s":0.0165,"f":0.034,"fe":0.0045},
{"p":"L","x":-0.1,"a":0.0175,"s":0.015,"f":0.029,"fe":0.0045},
{"p":"L","x":-0.05,"a":0.0178,"s":0.0148,"f":0.026,"fe":0.0045},
{"p":"L","x":0,"a":0.0178,"s":0.015,"f":0.022,"fe":0.0045},
{"p":"L","x":0.05,"a":0.018,"s":0.0158,"f":0.0345,"fe":0.0045},
{"p":"L","x":0.1,"a":0.019,"s":0.0168,"f":0.026,"fe":0.0045},
{"p":"L","x":0.15,"a":0.0205,"s":0.0185,"f":0.029,"fe":0.0045},
{"p":"L","x":0.2,"a":0.022,"s":0.021,"f":0.0335,"fe":0.0045},
{"p":"L","x":0.25,"a":0.025,"s":0.024,"f":0.035,"fe":0.0045},
{"p":"L","x":0.3,"a":0.029,"s":0.029,"f":0.0374,"fe":0.0045},
{"p":"L","x":0.35,"a":0.034,"s":0.035,"f":0.031,"fe":0.0045},
{"p":"L","x":0.4,"a":0.04,"s":0.041,"f":0.041,"fe":0.0045},
{"p":"L","x":0.45,"a":0.044,"s":0.046,"f":0.0425,"fe":0.0045},
{"p":"L","x":0.5,"a":0.0475,"s":0.0505,"f":0.0385,"fe":0.0045},
{"p":"L","x":0.55,"a":0.042,"s":0.042,"f":0.034,"fe":0.0045},
{"p":"L","x":0.6,"a":0.029,"s":0.029,"f":0.015,"fe":0.004},
{"p":"L","x":0.65,"a":0.017,"s":0.017,"f":0.016,"fe":0.0035},
{"p":"L","x":0.7,"a":0.01,"s":0.0105,"f":0.007,"fe":0.003},
{"p":"L","x":0.75,"a":0.005,"s":0.005,"f":0.002,"fe":0.002},
{"p":"L","x":0.8,"a":0.002,"s":0.0022,"f":0.0008,"fe":0.001},
{"p":"L","x":0.85,"a":0.0008,"s":0.0009,"f":0.0002,"fe":0.0005},
{"p":"L","x":0.9,"a":0.0002,"s":0.0003,"f":0,"fe":0.0002},
{"p":"L","x":0.95,"a":0,"s":0,"f":0,"fe":0},
{"p":"L","x":1,"a":0,"s":0,"f":0,"fe":0},

{"p":"M","x":-1,"a":0,"s":0,"f":0},
{"p":"M","x":-0.95,"a":0.0002,"s":0.0002,"f":0},
{"p":"M","x":-0.9,"a":0.0007,"s":0.0008,"f":0.0002},
{"p":"M","x":-0.85,"a":0.002,"s":0.0025,"f":0.0005},
{"p":"M","x":-0.8,"a":0.008,"s":0.0085,"f":0.0015},
{"p":"M","x":-0.75,"a":0.017,"s":0.018,"f":0.008},
{"p":"M","x":-0.7,"a":0.028,"s":0.029,"f":0.018},
{"p":"M","x":-0.65,"a":0.04,"s":0.041,"f":0.031},
{"p":"M","x":-0.6,"a":0.0495,"s":0.051,"f":0.041},
{"p":"M","x":-0.55,"a":0.046,"s":0.047,"f":0.041},
{"p":"M","x":-0.5,"a":0.037,"s":0.038,"f":0.035},
{"p":"M","x":-0.45,"a":0.03,"s":0.03,"f":0.0285},
{"p":"M","x":-0.4,"a":0.025,"s":0.025,"f":0.022},
{"p":"M","x":-0.35,"a":0.0215,"s":0.0215,"f":0.022},
{"p":"M","x":-0.3,"a":0.019,"s":0.019,"f":0.0215},
{"p":"M","x":-0.25,"a":0.017,"s":0.0168,"f":0.0216},
{"p":"M","x":-0.2,"a":0.0158,"s":0.0155,"f":0.0205},
{"p":"M","x":-0.15,"a":0.0148,"s":0.0145,"f":0.019},
{"p":"M","x":-0.1,"a":0.0142,"s":0.0138,"f":0.022},
{"p":"M","x":-0.05,"a":0.0138,"s":0.0133,"f":0.019},
{"p":"M","x":0,"a":0.0135,"s":0.0132,"f":0.0205},
{"p":"M","x":0.05,"a":0.0137,"s":0.0133,"f":0.022},
{"p":"M","x":0.1,"a":0.0142,"s":0.014,"f":0.019},
{"p":"M","x":0.15,"a":0.0155,"s":0.015,"f":0.0225},
{"p":"M","x":0.2,"a":0.017,"s":0.0168,"f":0.019},
{"p":"M","x":0.25,"a":0.0195,"s":0.0195,"f":0.02},
{"p":"M","x":0.3,"a":0.023,"s":0.023,"f":0.023},
{"p":"M","x":0.35,"a":0.027,"s":0.027,"f":0.0245},
{"p":"M","x":0.4,"a":0.032,"s":0.032,"f":0.0273},
{"p":"M","x":0.45,"a":0.039,"s":0.039,"f":0.031},
{"p":"M","x":0.5,"a":0.046,"s":0.047,"f":0.036},
{"p":"M","x":0.55,"a":0.0495,"s":0.051,"f":0.039},
{"p":"M","x":0.6,"a":0.042,"s":0.043,"f":0.035},
{"p":"M","x":0.65,"a":0.029,"s":0.03,"f":0.022},
{"p":"M","x":0.7,"a":0.017,"s":0.018,"f":0.01},
{"p":"M","x":0.75,"a":0.008,"s":0.0085,"f":0.004},
{"p":"M","x":0.8,"a":0.003,"s":0.0035,"f":0.0015},
{"p":"M","x":0.85,"a":0.0008,"s":0.001,"f":0.0003},
{"p":"M","x":0.9,"a":0.0002,"s":0.0003,"f":0},
{"p":"M","x":0.95,"a":0,"s":0,"f":0},
{"p":"M","x":1,"a":0,"s":0,"f":0},

{"p":"N","x":-1,"a":0,"s":0,"f":0},
{"p":"N","x":-0.95,"a":0.0002,"s":0.0002,"f":0.0002},
{"p":"N","x":-0.9,"a":0.0006,"s":0.0007,"f":0.0005},
{"p":"N","x":-0.85,"a":0.0015,"s":0.0015,"f":0.0012},
{"p":"N","x":-0.8,"a":0.003,"s":0.0035,"f":0.0028},
{"p":"N","x":-0.75,"a":0.007,"s":0.0075,"f":0.0065},
{"p":"N","x":-0.7,"a":0.015,"s":0.016,"f":0.014},
{"p":"N","x":-0.65,"a":0.025,"s":0.026,"f":0.024},
{"p":"N","x":-0.6,"a":0.032,"s":0.034,"f":0.031},
{"p":"N","x":-0.55,"a":0.035,"s":0.037,"f":0.0335},
{"p":"N","x":-0.5,"a":0.0345,"s":0.036,"f":0.033},
{"p":"N","x":-0.45,"a":0.033,"s":0.033,"f":0.0315},
{"p":"N","x":-0.4,"a":0.031,"s":0.03,"f":0.03},
{"p":"N","x":-0.35,"a":0.029,"s":0.027,"f":0.029},
{"p":"N","x":-0.3,"a":0.0275,"s":0.025,"f":0.0295},
{"p":"N","x":-0.25,"a":0.026,"s":0.0245,"f":0.029},
{"p":"N","x":-0.2,"a":0.025,"s":0.023,"f":0.0285},
{"p":"N","x":-0.15,"a":0.0245,"s":0.0225,"f":0.029},
{"p":"N","x":-0.1,"a":0.024,"s":0.021,"f":0.0295},
{"p":"N","x":-0.05,"a":0.024,"s":0.0215,"f":0.03},
{"p":"N","x":0,"a":0.024,"s":0.022,"f":0.0298},
{"p":"N","x":0.05,"a":0.024,"s":0.022,"f":0.029},
{"p":"N","x":0.1,"a":0.0245,"s":0.022,"f":0.0285},
{"p":"N","x":0.15,"a":0.025,"s":0.0235,"f":0.028},
{"p":"N","x":0.2,"a":0.0255,"s":0.025,"f":0.0295},
{"p":"N","x":0.25,"a":0.026,"s":0.026,"f":0.029},
{"p":"N","x":0.3,"a":0.027,"s":0.0275,"f":0.029},
{"p":"N","x":0.35,"a":0.029,"s":0.029,"f":0.03},
{"p":"N","x":0.4,"a":0.031,"s":0.0325,"f":0.031},
{"p":"N","x":0.45,"a":0.033,"s":0.035,"f":0.03},
{"p":"N","x":0.5,"a":0.035,"s":0.037,"f":0.0295},
{"p":"N","x":0.55,"a":0.032,"s":0.034,"f":0.029},
{"p":"N","x":0.6,"a":0.024,"s":0.025,"f":0.02},
{"p":"N","x":0.65,"a":0.015,"s":0.016,"f":0.0105},
{"p":"N","x":0.7,"a":0.008,"s":0.009,"f":0.005},
{"p":"N","x":0.75,"a":0.0035,"s":0.004,"f":0.002},
{"p":"N","x":0.8,"a":0.0013,"s":0.0015,"f":0.0007},
{"p":"N","x":0.85,"a":0.0004,"s":0.0005,"f":0.0002},
{"p":"N","x":0.9,"a":0.0001,"s":0.0001,"f":0},
{"p":"N","x":0.95,"a":0,"s":0,"f":0},
{"p":"N","x":1,"a":0,"s":0,"f":0},

{"p":"O","x":-1,"a":0,"s":0,"f":0},
{"p":"O","x":-0.95,"a":0.0003,"s":0.0003,"f":0.0001},
{"p":"O","x":-0.9,"a":0.001,"s":0.001,"f":0.0003},
{"p":"O","x":-0.85,"a":0.0025,"s":0.0025,"f":0.0007},
{"p":"O","x":-0.8,"a":0.007,"s":0.0075,"f":0.002},
{"p":"O","x":-0.75,"a":0.014,"s":0.015,"f":0.007},
{"p":"O","x":-0.7,"a":0.025,"s":0.026,"f":0.017},
{"p":"O","x":-0.65,"a":0.037,"s":0.039,"f":0.032},
{"p":"O","x":-0.6,"a":0.0435,"s":0.0455,"f":0.0385},
{"p":"O","x":-0.55,"a":0.042,"s":0.043,"f":0.036},
{"p":"O","x":-0.5,"a":0.036,"s":0.0365,"f":0.034},
{"p":"O","x":-0.45,"a":0.03,"s":0.03,"f":0.03},
{"p":"O","x":-0.4,"a":0.0255,"s":0.0255,"f":0.028},
{"p":"O","x":-0.35,"a":0.022,"s":0.022,"f":0.026},
{"p":"O","x":-0.3,"a":0.0198,"s":0.0195,"f":0.0255},
{"p":"O","x":-0.25,"a":0.0185,"s":0.018,"f":0.026},
{"p":"O","x":-0.2,"a":0.0175,"s":0.017,"f":0.024},
{"p":"O","x":-0.15,"a":0.017,"s":0.0163,"f":0.0255},
{"p":"O","x":-0.1,"a":0.0168,"s":0.016,"f":0.026},
{"p":"O","x":-0.05,"a":0.0165,"s":0.0152,"f":0.025},
{"p":"O","x":0,"a":0.0165,"s":0.0145,"f":0.027},
{"p":"O","x":0.05,"a":0.0165,"s":0.015,"f":0.0265},
{"p":"O","x":0.1,"a":0.017,"s":0.016,"f":0.025},
{"p":"O","x":0.15,"a":0.0178,"s":0.0168,"f":0.026},
{"p":"O","x":0.2,"a":0.019,"s":0.018,"f":0.0268},
{"p":"O","x":0.25,"a":0.021,"s":0.0205,"f":0.026},
{"p":"O","x":0.3,"a":0.023,"s":0.022,"f":0.027},
{"p":"O","x":0.35,"a":0.026,"s":0.026,"f":0.029},
{"p":"O","x":0.4,"a":0.031,"s":0.031,"f":0.031},
{"p":"O","x":0.45,"a":0.037,"s":0.038,"f":0.032},
{"p":"O","x":0.5,"a":0.042,"s":0.043,"f":0.033},
{"p":"O","x":0.55,"a":0.0435,"s":0.0452,"f":0.032},
{"p":"O","x":0.6,"a":0.037,"s":0.038,"f":0.026},
{"p":"O","x":0.65,"a":0.026,"s":0.027,"f":0.018},
{"p":"O","x":0.7,"a":0.016,"s":0.017,"f":0.011},
{"p":"O","x":0.75,"a":0.008,"s":0.0085,"f":0.005},
{"p":"O","x":0.8,"a":0.003,"s":0.0035,"f":0.0018},
{"p":"O","x":0.85,"a":0.001,"s":0.0012,"f":0.0005},
{"p":"O","x":0.9,"a":0.0003,"s":0.0003,"f":0.0001},
{"p":"O","x":0.95,"a":0,"s":0,"f":0},
{"p":"O","x":1,"a":0,"s":0,"f":0}
]},
"facet":{"field":"p","type":"nominal","header":{"title":null,"labelExpr":"''","labelFontSize":1,"labelPadding":0,"labelColor":"transparent"}},
"columns":3,
"bounds":"flush",
"spacing":{"row":107,"column":254},
"resolve":{"axis":{"x":"independent","y":"independent"}},
"spec":{
 "width":118,"height":158,
 "layer":[
  {"mark":{"type":"line","color":"#231f20","strokeWidth":1.6},
   "encoding":{
    "x":{"field":"x","type":"quantitative","scale":{"domain":[-1,1],"nice":false,"zero":false},
         "axis":{"title":"xNorm","values":[-1,-0.5,0,0.5,1],"tickCount":5,"labelExpr":"datum.value==0?'0':datum.value==1?'1':datum.value==-1?'-1':datum.value<0?'-0.5':'0.5'","labelPadding":16,"titlePadding":5,"labelOverlap":false,"labelFlush":false,"labelBound":false}},
    "y":{"field":"a","type":"quantitative","scale":{"domain":[0,0.06],"nice":false,"zero":true},
         "axis":{"title":"Probability","values":[0,0.01,0.02,0.03,0.04,0.05,0.06],"tickCount":7,"labelExpr":"datum.value<0.005?'0':abs(datum.value-0.02)<0.001?'0.02':abs(datum.value-0.04)<0.001?'0.04':abs(datum.value-0.06)<0.001?'0.06':''","labelPadding":16,"titlePadding":12,"labelOverlap":false,"labelFlush":false,"labelBound":false}}}},
  {"transform":[{"filter":"isValid(datum.fe)"}],
   "mark":{"type":"errorband","color":"#00a651","opacity":0.28},
   "encoding":{"x":{"field":"x","type":"quantitative","title":"xNorm"},"y":{"field":"f","type":"quantitative","title":"Probability"},"yError":{"field":"fe"}}},
  {"transform":[{"filter":"isValid(datum.se)"}],
   "mark":{"type":"errorband","color":"#be1e2d","opacity":0.28},
   "encoding":{"x":{"field":"x","type":"quantitative","title":"xNorm"},"y":{"field":"s","type":"quantitative","title":"Probability"},"yError":{"field":"se"}}},
  {"mark":{"type":"line","color":"#be1e2d","strokeWidth":5,"opacity":0.2},
   "encoding":{"x":{"field":"x","type":"quantitative","title":"xNorm"},"y":{"field":"s","type":"quantitative","title":"Probability"}}},
  {"mark":{"type":"line","color":"#00a651","strokeWidth":5,"opacity":0.2},
   "encoding":{"x":{"field":"x","type":"quantitative","title":"xNorm"},"y":{"field":"f","type":"quantitative","title":"Probability"}}},
  {"mark":{"type":"line","color":"#231f20","strokeWidth":1.6},
   "encoding":{"x":{"field":"x","type":"quantitative","title":"xNorm"},"y":{"field":"a","type":"quantitative","title":"Probability"}}},
  {"mark":{"type":"line","color":"#be1e2d","strokeWidth":2},
   "encoding":{"x":{"field":"x","type":"quantitative","title":"xNorm"},"y":{"field":"s","type":"quantitative","title":"Probability"}}},
  {"mark":{"type":"line","color":"#00a651","strokeWidth":2},
   "encoding":{"x":{"field":"x","type":"quantitative","title":"xNorm"},"y":{"field":"f","type":"quantitative","title":"Probability"}}},
  {"transform":[{"filter":"isValid(datum.title)"}],
   "mark":{"type":"text","fontWeight":"bold","fontSize":18,"align":"center","baseline":"middle"},
   "encoding":{"x":{"datum":-2.22},"y":{"datum":0.0675},"text":{"field":"p"}}},
  {"transform":[{"filter":"isValid(datum.title)"}],
   "mark":{"type":"text","align":"center","baseline":"middle"},
   "encoding":{"x":{"datum":0},"y":{"datum":0.0683},"text":{"field":"title"}}},
  {"transform":[{"filter":"isValid(datum.stray)"}],
   "mark":{"type":"text","fontWeight":"bold","fontSize":22,"align":"center","baseline":"middle"},
   "encoding":{"x":{"datum":-1.564},"y":{"datum":0.0068},"text":{"field":"stray"}}},
  {"transform":[{"filter":"isValid(datum.title)"}],
   "mark":{"type":"rule","color":"#231f20","strokeWidth":2.6},
   "encoding":{"x":{"datum":1.145},"x2":{"datum":1.42},"y":{"datum":0.0561}}},
  {"transform":[{"filter":"isValid(datum.title)"}],
   "mark":{"type":"text","align":"left","baseline":"middle"},
   "encoding":{"x":{"datum":1.545},"y":{"datum":0.0561},"text":{"value":"All data"}}},
  {"transform":[{"filter":"isValid(datum.title)"}],
   "mark":{"type":"text","align":"left","baseline":"middle"},
   "encoding":{"x":{"datum":1.149},"y":{"datum":0.046},"text":{"value":"D"}}},
  {"transform":[{"filter":"isValid(datum.title)"}],
   "mark":{"type":"text","align":"left","baseline":"middle","fontSize":9.5},
   "encoding":{"x":{"datum":1.376},"y":{"datum":0.0435},"text":{"value":"cutoff"}}},
  {"transform":[{"filter":"isValid(datum.title)"}],
   "mark":{"type":"text","align":"left","baseline":"middle"},
   "encoding":{"x":{"datum":1.884},"y":{"datum":0.046},"text":{"field":"dl"}}},
  {"transform":[{"filter":"isValid(datum.dl) && length(datum.dl) == 12"}],
   "mark":{"type":"rule","color":"#231f20","strokeWidth":1.8},
   "encoding":{"x":{"datum":1.144},"x2":{"datum":3.601},"y":{"datum":0.041}}},
  {"transform":[{"filter":"isValid(datum.dl) && length(datum.dl) == 11"}],
   "mark":{"type":"rule","color":"#231f20","strokeWidth":1.8},
   "encoding":{"x":{"datum":1.144},"x2":{"datum":3.44},"y":{"datum":0.041}}},
  {"transform":[{"filter":"isValid(datum.dl) && length(datum.dl) == 10"}],
   "mark":{"type":"rule","color":"#231f20","strokeWidth":1.8},
   "encoding":{"x":{"datum":1.144},"x2":{"datum":3.279},"y":{"datum":0.041}}},
  {"transform":[{"filter":"isValid(datum.dl) && length(datum.dl) == 9"}],
   "mark":{"type":"rule","color":"#231f20","strokeWidth":1.8},
   "encoding":{"x":{"datum":1.144},"x2":{"datum":3.118},"y":{"datum":0.041}}},
  {"transform":[{"filter":"isValid(datum.title)"}],
   "mark":{"type":"rule","color":"#be1e2d","strokeWidth":2.6},
   "encoding":{"x":{"datum":1.145},"x2":{"datum":1.42},"y":{"datum":0.0356}}},
  {"transform":[{"filter":"isValid(datum.title)"}],
   "mark":{"type":"text","align":"left","baseline":"middle"},
   "encoding":{"x":{"datum":1.545},"y":{"datum":0.0356},"text":{"field":"slow"}}},
  {"transform":[{"filter":"isValid(datum.title)"}],
   "mark":{"type":"rule","color":"#00a651","strokeWidth":2.6},
   "encoding":{"x":{"datum":1.145},"x2":{"datum":1.42},"y":{"datum":0.0262}}},
  {"transform":[{"filter":"isValid(datum.title)"}],
   "mark":{"type":"text","align":"left","baseline":"middle"},
   "encoding":{"x":{"datum":1.545},"y":{"datum":0.0262},"text":{"field":"fast"}}}
 ]
},
"config":{
 "view":{"stroke":null},
 "font":"Liberation Sans",
 "text":{"font":"Liberation Sans","fontSize":17,"color":"#231f20"},
 "axis":{"domainColor":"#231f20","domainWidth":2,"tickColor":"#231f20","tickWidth":1.6,"tickSize":-4,
  "labelFont":"Liberation Sans","labelFontSize":17,"labelColor":"#231f20",
  "titleFont":"Liberation Sans","titleFontSize":17,"titleFontWeight":"normal","titleColor":"#231f20",
  "grid":false,"labelOverlap":false,"labelFlush":false}
}
}
